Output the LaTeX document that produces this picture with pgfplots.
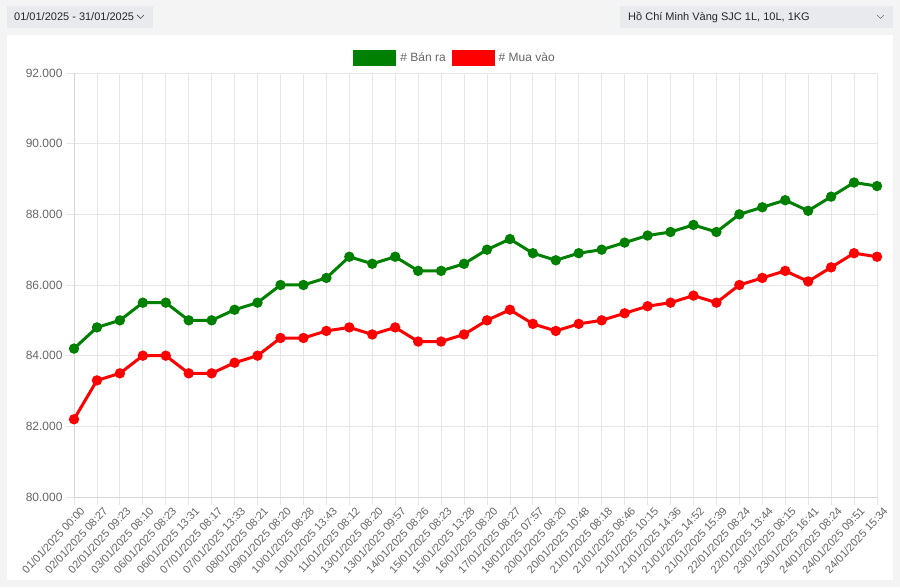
\documentclass[border=0pt]{standalone}
\usepackage{fontspec}
\setmainfont{Liberation Sans}
\usepackage{pgfplots}
\usepackage{pgfplotstable}
\pgfplotsset{compat=1.18}

\definecolor{pagebg}{HTML}{F4F4F4}
\definecolor{boxbg}{HTML}{E9EAEE}
\definecolor{gridc}{HTML}{E6E6E6}
\definecolor{axisc}{HTML}{D6D6D6}
\definecolor{labelc}{HTML}{666666}
\definecolor{banra}{HTML}{008000}
\definecolor{muavao}{HTML}{FF0000}

% gia vang SJC, nghin dong / luong
\pgfplotstableread{
idx ban mua
0 84.2 82.2
1 84.8 83.3
2 85.0 83.5
3 85.5 84.0
4 85.5 84.0
5 85.0 83.5
6 85.0 83.5
7 85.3 83.8
8 85.5 84.0
9 86.0 84.5
10 86.0 84.5
11 86.2 84.7
12 86.8 84.8
13 86.6 84.6
14 86.8 84.8
15 86.4 84.4
16 86.4 84.4
17 86.6 84.6
18 87.0 85.0
19 87.3 85.3
20 86.9 84.9
21 86.7 84.7
22 86.9 84.9
23 87.0 85.0
24 87.2 85.2
25 87.4 85.4
26 87.5 85.5
27 87.7 85.7
28 87.5 85.5
29 88.0 86.0
30 88.2 86.2
31 88.4 86.4
32 88.1 86.1
33 88.5 86.5
34 88.9 86.9
35 88.8 86.8
}\data

\begin{document}
\begin{tikzpicture}
% page background and card
\fill[pagebg] (0,0) rectangle (900pt,587pt);
\fill[white] (7pt,7pt) rectangle (893pt,552pt);

% top controls
\fill[boxbg] (7pt,559pt) rectangle (153pt,581pt);
\node[anchor=west, inner sep=0pt, text=black!85, font=\fontsize{11}{13}\selectfont]
  at (14pt,570pt) {01/01/2025 - 31/01/2025};
\draw[black!70, line width=0.7pt] (137pt,572pt) -- (140.5pt,568.5pt) -- (144pt,572pt);

\fill[boxbg] (620pt,559pt) rectangle (893pt,581pt);
\node[anchor=west, inner sep=0pt, text=black!85, font=\fontsize{11}{13}\selectfont]
  at (628pt,570pt) {Hồ Chí Minh Vàng SJC 1L, 10L, 1KG};
\draw[black!55, line width=0.6pt] (877pt,572pt) -- (880.5pt,568.5pt) -- (884pt,572pt);

\begin{axis}[
  at={(74pt,90pt)}, anchor=south west,
  scale only axis, width=803pt, height=424pt,
  xmin=0, xmax=35, ymin=80, ymax=92,
  xtick={0,...,35},
  xticklabels={01/01/2025 00:00, 02/01/2025 08:27, 02/01/2025 09:23, 03/01/2025 08:10,
    06/01/2025 08:23, 06/01/2025 13:31, 07/01/2025 08:17, 07/01/2025 13:33,
    08/01/2025 08:21, 09/01/2025 08:20, 10/01/2025 08:28, 10/01/2025 13:43,
    11/01/2025 08:12, 13/01/2025 08:20, 13/01/2025 09:57, 14/01/2025 08:26,
    15/01/2025 08:23, 15/01/2025 13:28, 16/01/2025 08:20, 17/01/2025 08:27,
    18/01/2025 07:57, 20/01/2025 08:20, 20/01/2025 10:48, 21/01/2025 08:18,
    21/01/2025 08:46, 21/01/2025 10:15, 21/01/2025 14:36, 21/01/2025 14:52,
    21/01/2025 15:39, 22/01/2025 08:24, 22/01/2025 13:44, 23/01/2025 08:15,
    23/01/2025 16:41, 24/01/2025 08:24, 24/01/2025 09:51, 24/01/2025 15:34},
  ytick={80,82,...,92},
  yticklabels={80.000,82.000,84.000,86.000,88.000,90.000,92.000},
  grid=major, grid style={gridc, line width=0.8pt},
  axis x line*=bottom, axis y line*=left,
  axis line style={axisc, line width=0.8pt, -},
  tick align=outside, major tick length=8pt,
  tick style={gridc, line width=0.8pt},
  xticklabel style={rotate=47, anchor=east, text=labelc,
    font=\fontsize{11}{12}\selectfont, inner sep=1pt, xshift=4pt, yshift=-9pt},
  yticklabel style={text=labelc, font=\fontsize{12}{14}\selectfont},
  legend columns=2,
  legend style={at={(0.4745,1)}, anchor=south, yshift=5pt, draw=none, fill=none,
    font=\fontsize{12}{14}\selectfont, text=labelc,
    /tikz/every odd column/.append style={column sep=2pt},
    /tikz/every even column/.append style={column sep=4pt}},
  legend image code/.code={\fill[#1] (0pt,-6.5pt) rectangle (40pt,6.5pt);},
  clip=false,
]
\addplot[banra, line width=3pt, mark=*, mark size=3.6pt, mark options={solid, fill=banra}]
  table[x=idx, y=ban] {\data};
\addlegendentry{\# Bán ra}
\addplot[muavao, line width=3pt, mark=*, mark size=3.6pt, mark options={solid, fill=muavao}]
  table[x=idx, y=mua] {\data};
\addlegendentry{\# Mua vào}
\end{axis}
\end{tikzpicture}
\end{document}
